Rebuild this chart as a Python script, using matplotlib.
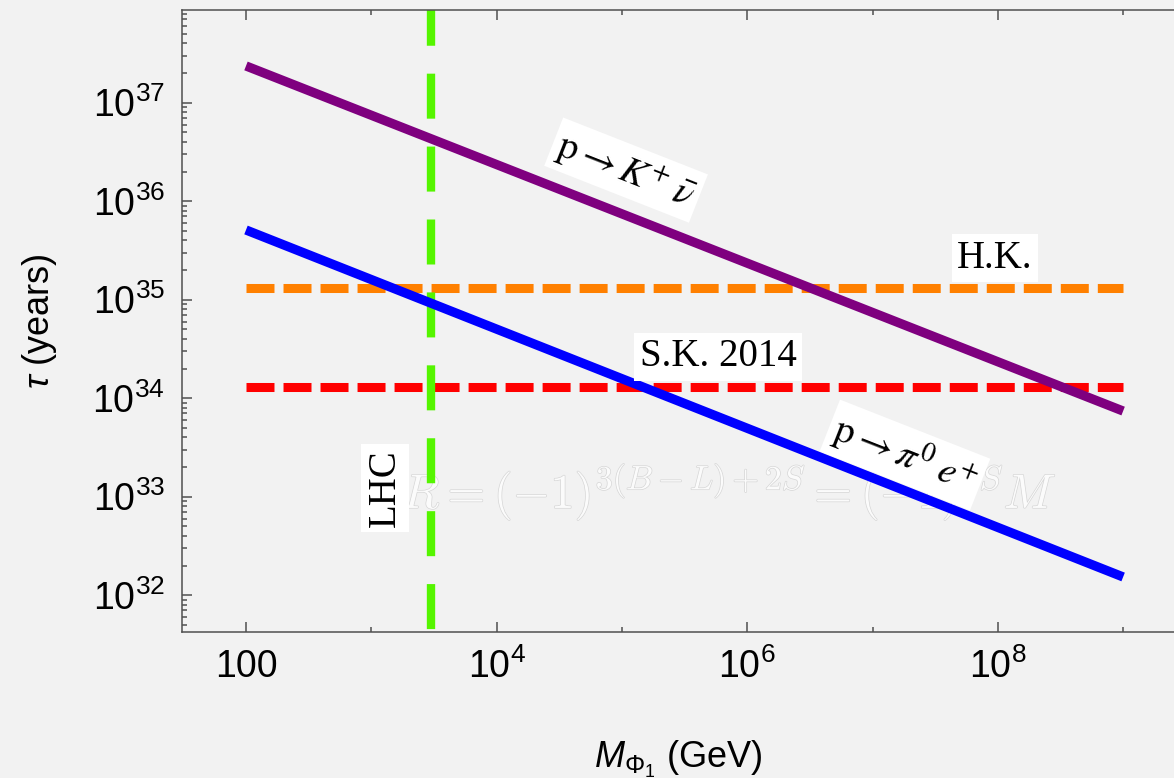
import numpy as np
import matplotlib
matplotlib.use("Agg")
import matplotlib.pyplot as plt
from matplotlib.ticker import FixedLocator, LogLocator, NullFormatter
import matplotlib.patheffects as pe

# --- data -------------------------------------------------------------
mass_gev = [1e2, 1e9]                       # M_Phi1 range (GeV)
tau_k_nubar = [2.36e37, 7.4e33]             # p -> K+ nu-bar lifetime (years)
tau_pi0_eplus = [5.1e35, 1.53e32]           # p -> pi0 e+ lifetime (years)
hyperk_limit = 1.3e35                       # Hyper-Kamiokande reach (years)
superk_limit = 1.3e34                       # Super-Kamiokande 2014 bound (years)
lhc_mass = 3.0e3                            # LHC reach (GeV)

xtick_vals = [1e2, 1e4, 1e6, 1e8]
xtick_labels = ["100", r"$\mathdefault{10^{4}}$", r"$\mathdefault{10^{6}}$",
                r"$\mathdefault{10^{8}}$"]
xminor_vals = [1e3, 1e5, 1e7, 1e9]

# --- style ------------------------------------------------------------
plt.rcParams["font.family"] = ["Liberation Sans", "DejaVu Sans"]
plt.rcParams["mathtext.fontset"] = "custom"
plt.rcParams["mathtext.rm"] = "Liberation Sans"
plt.rcParams["mathtext.it"] = "Liberation Sans:italic"
plt.rcParams["mathtext.bf"] = "Liberation Sans:bold"

bg = "#f2f2f2"
axis_col = "#505050"

fig = plt.figure(figsize=(11.74, 7.78), dpi=100, facecolor=bg)
W, H = 1174, 778
left, right, top, bottom = 181.7, 1174, 9.5, 632
ax = fig.add_axes([left / W, (H - bottom) / H, (right - left) / W, (bottom - top) / H])
ax.set_facecolor(bg)
ax.set_xscale("log")
ax.set_yscale("log")
ax.set_xlim(10 ** 1.487, 10 ** 9.406)
ax.set_ylim(10 ** 31.626, 10 ** 37.946)

# --- curves -----------------------------------------------------------
ax.plot(mass_gev, tau_k_nubar, color="#7f007f", lw=6.7, solid_capstyle="butt", zorder=3)
ax.plot(mass_gev, tau_pi0_eplus, color="#0000ff", lw=6.7, solid_capstyle="butt", zorder=3)
ax.plot(mass_gev, [hyperk_limit] * 2, color="#ff8000", lw=6.5,
        linestyle=(0, (3.1, 1.0)), zorder=2)
ax.plot(mass_gev, [superk_limit] * 2, color="#ff0000", lw=6.5,
        linestyle=(0, (3.1, 1.0)), zorder=2)
ax.axvline(lhc_mass, color="#55f500", lw=6.0, linestyle=(8.4, (5.4, 3.35)), zorder=2)

# --- axes -------------------------------------------------------------
for s in ("left", "bottom", "top"):
    ax.spines[s].set_color(axis_col)
    ax.spines[s].set_linewidth(1.1)
ax.spines["right"].set_visible(False)

ax.xaxis.set_major_locator(FixedLocator(xtick_vals))
ax.set_xticklabels(xtick_labels)
ax.xaxis.set_minor_locator(FixedLocator(xminor_vals))
ax.xaxis.set_minor_formatter(NullFormatter())
ax.yaxis.set_major_locator(LogLocator(base=10, numticks=20))
ax.yaxis.set_minor_locator(LogLocator(base=10, subs=np.arange(2, 10), numticks=20))
ax.yaxis.set_minor_formatter(NullFormatter())

ax.tick_params(which="both", direction="in", color=axis_col, width=1.1,
               top=True, right=False, labelsize=27, labelcolor="black")
ax.tick_params(which="major", length=7.2)
ax.tick_params(which="minor", length=3.8)
ax.tick_params(axis="x", which="major", pad=12)
ax.tick_params(axis="y", which="major", pad=12)

ax.set_xlabel(r"$M_{\Phi_1}$ (GeV)", fontsize=26, labelpad=38)
ax.set_ylabel(r"$\tau$ (years)", fontsize=26, labelpad=24)

# --- annotations ------------------------------------------------------
fig.canvas.draw()
p0 = ax.transData.transform((mass_gev[0], tau_k_nubar[0]))
p1 = ax.transData.transform((mass_gev[1], tau_k_nubar[1]))
angle = np.degrees(np.arctan2(p1[1] - p0[1], p1[0] - p0[0]))

serif = ["Liberation Serif", "DejaVu Serif"]
box = dict(facecolor="white", edgecolor="none", pad=4)

ax.text(0.222, 0.225, r"$R = (-1)^{3(B-L)+2S} = (-1)^{2S}M$",
        transform=ax.transAxes, ha="left", va="center", fontsize=35,
        math_fontfamily="cm", color="#fbfbfb", zorder=1,
        path_effects=[pe.withStroke(linewidth=1.0, foreground="#d6d6d6")])

ax.text(0.4478, 0.742, r"$\mathrm{p} \rightarrow K^{+}\;\bar{\nu}$",
        transform=ax.transAxes, ha="center", va="center", rotation=angle,
        rotation_mode="anchor", fontsize=28, family=serif, math_fontfamily="stix",
        bbox=box, zorder=5)
ax.text(0.7289, 0.2843, r"$\mathrm{p} \rightarrow \pi^{0}\;e^{+}$",
        transform=ax.transAxes, ha="center", va="center", rotation=angle,
        rotation_mode="anchor", fontsize=28, family=serif, math_fontfamily="stix",
        bbox=box, zorder=5)
ax.text(0.8196, 0.6008, "H.K.", transform=ax.transAxes, ha="center", va="center",
        fontsize=28, family=serif, bbox=box, zorder=5)
ax.text(0.5405, 0.4418, "S.K. 2014", transform=ax.transAxes, ha="center",
        va="center", fontsize=28, family=serif, bbox=box, zorder=5)
ax.text(0.2049, 0.2313, "LHC", transform=ax.transAxes, ha="center", va="center",
        rotation=90, fontsize=28, family=serif, bbox=box, zorder=5)

fig.savefig("out.png", dpi=100, facecolor=bg)
